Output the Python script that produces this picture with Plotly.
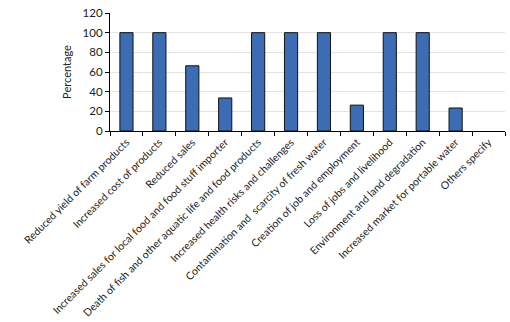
import plotly.graph_objects as go

categories = [
    "Reduced yield of farm products",
    "Increased cost of products",
    "Reduced sales",
    "Increased sales for local food and food stuff importer",
    "Death of fish and other aquatic life and food products",
    "Increased health risks and challenges",
    "Contamination and  scarcity of fresh water",
    "Creation of job and employment",
    "Loss of jobs and livelihood",
    "Environment and land degradation",
    "Increased market for portable water",
    "Others specify",
]
values = [100, 100, 66.3, 33.6, 100, 100, 100, 26.3, 100, 100, 23.4, 0]
y_ticks = [0, 20, 40, 60, 80, 100, 120]

outline_widths = [1 if v > 0 else 0 for v in values]

fig = go.Figure(go.Bar(
    x=categories, y=values,
    marker=dict(color="#3c6db4", line=dict(color="#111111", width=outline_widths)),
    width=0.4,
))

fig.update_layout(
    width=510, height=322,
    margin=dict(l=110, r=5, t=13, b=191),
    paper_bgcolor="white", plot_bgcolor="white",
    font=dict(family="Lato, Open Sans, sans-serif", color="#222222"),
    showlegend=False,
)
fig.update_xaxes(
    tickangle=-45, tickfont=dict(size=10.5, color="#222222"), automargin=False,
    showline=True, linecolor="black", linewidth=1.2,
    ticks="outside", tickson="boundaries", ticklen=4, tickcolor="black",
    showgrid=False,
)
fig.update_yaxes(
    range=[0, 120], tickvals=y_ticks, tickfont=dict(size=11.5, color="#222222"), automargin=False,
    showline=True, linecolor="black", linewidth=1.2,
    ticks="outside", ticklen=4, tickcolor="black",
    showgrid=True, gridcolor="#e3e3e3", gridwidth=1, zeroline=False,
    title=dict(text="Percentage", font=dict(size=11, color="#222222"), standoff=8),
)

fig.write_html("out.html")
